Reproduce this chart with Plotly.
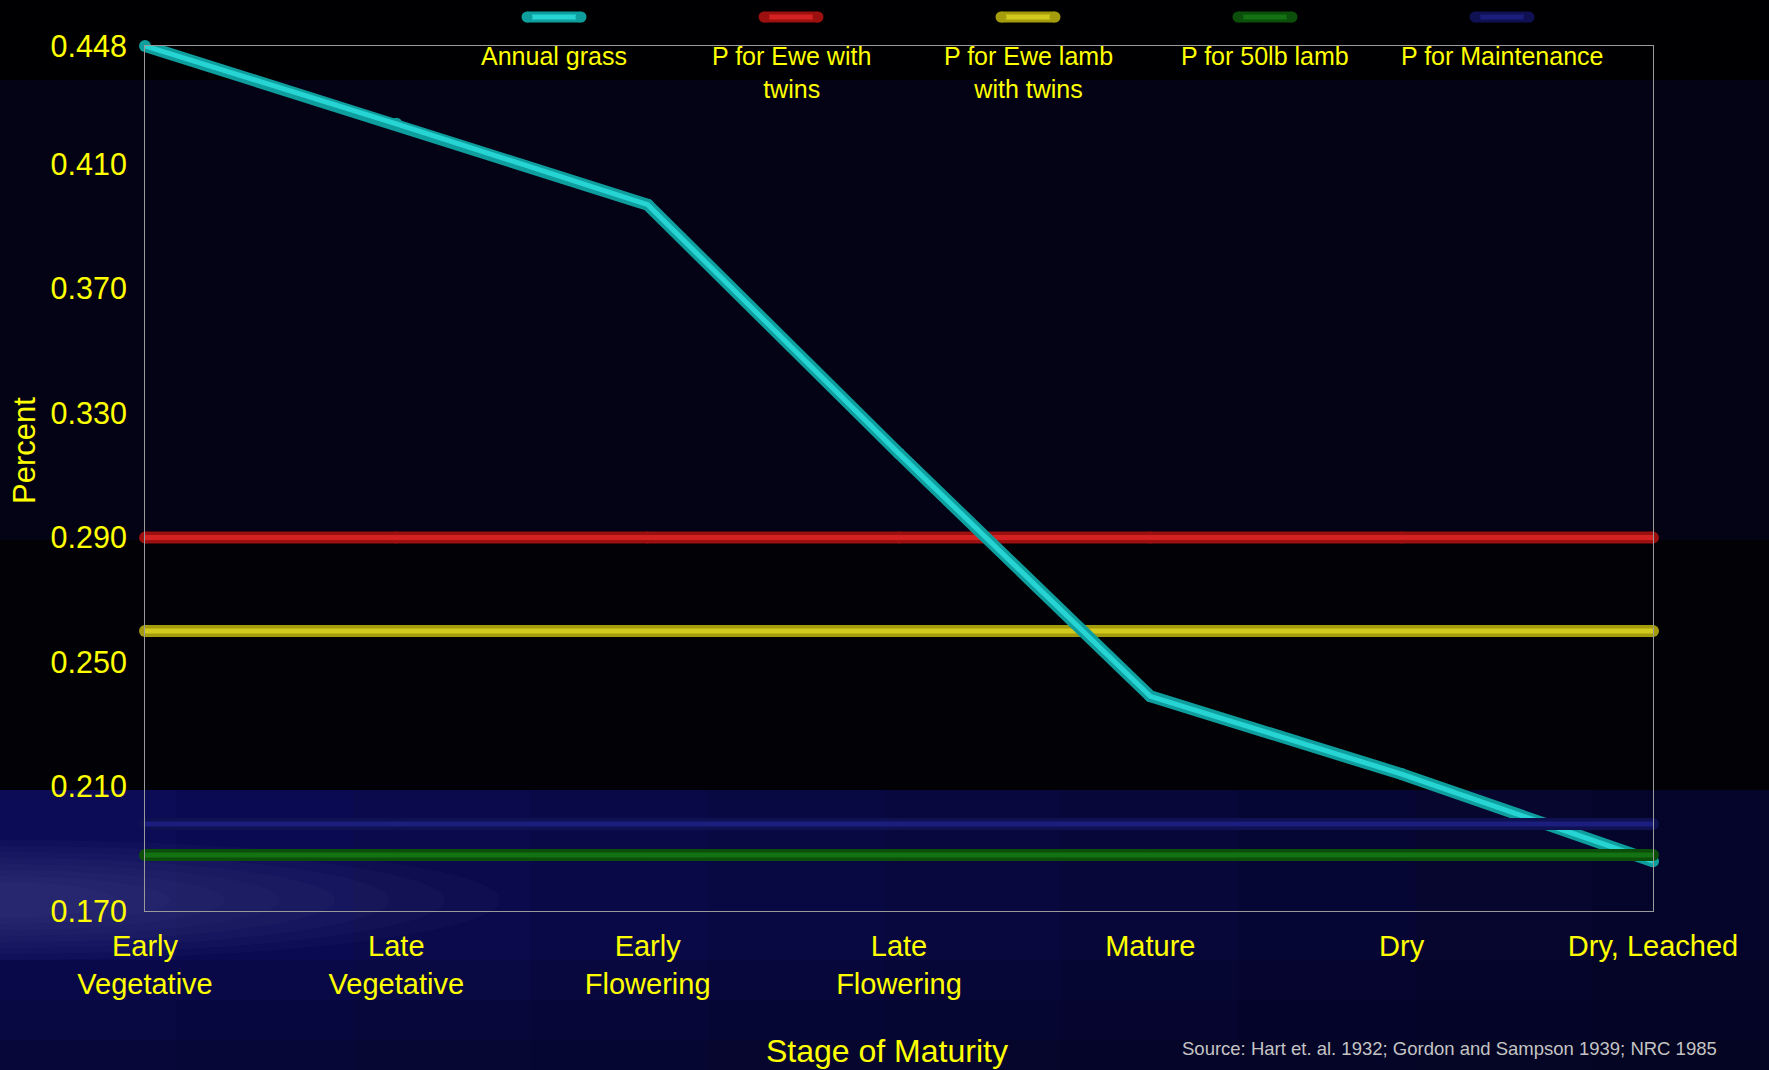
import plotly.graph_objects as go

# ---------------- data ----------------
stages = ["Early<br>Vegetative", "Late<br>Vegetative", "Early<br>Flowering",
          "Late<br>Flowering", "Mature", "Dry", "Dry, Leached"]
annual_grass = [0.448, 0.423, 0.397, 0.317, 0.239, 0.214, 0.186]
p_ewe_twins = [0.29, 0.29, 0.29, 0.29, 0.29, 0.29, 0.29]
p_ewe_lamb_twins = [0.26, 0.26, 0.26, 0.26, 0.26, 0.26, 0.26]
p_50lb_lamb = [0.188, 0.188, 0.188, 0.188, 0.188, 0.188, 0.188]
p_maintenance = [0.198, 0.198, 0.198, 0.198, 0.198, 0.198, 0.198]
series_names = ["Annual grass", "P for Ewe with<br>twins", "P for Ewe lamb<br>with twins",
                "P for 50lb lamb", "P for Maintenance"]
y_tick_vals = [0.170, 0.210, 0.250, 0.290, 0.330, 0.370, 0.410, 0.448]
y_tick_text = ["0.170", "0.210", "0.250", "0.290", "0.330", "0.370", "0.410", "0.448"]
y_title = "Percent"
x_title = "Stage of Maturity"
source_text = "Source: Hart et. al. 1932; Gordon and Sampson 1939; NRC 1985"

# ---------------- geometry ----------------
W, H = 1769, 1070
L, R, T, B = 145, 1653, 46, 911
PW, PH = R - L, B - T


def px(x):
    return (x - L) / PW


def py(y):
    return (B - y) / PH


FONT = "Liberation Sans, Arial, sans-serif"
YEL = "#ffff00"

# colours: (outer, inner)
cols = [("#0f9e9e", "#27d4d4"), ("#9c1010", "#d42222"), ("#a49c0c", "#d2ca1c"),
        ("#0b4f0b", "#137313"), ("#0f1152", "#1b1e7c")]
series = [annual_grass, p_ewe_twins, p_ewe_lamb_twins, p_50lb_lamb, p_maintenance]

fig = go.Figure()

draw_order = [1, 2, 0, 3, 4]
for i in draw_order:
    outer, inner = cols[i]
    fig.add_trace(go.Scatter(x=stages, y=series[i], mode="lines+markers",
                             line=dict(color=outer, width=12),
                             marker=dict(color=outer, size=12, line=dict(width=0)),
                             cliponaxis=False, showlegend=False, hoverinfo="skip"))
    fig.add_trace(go.Scatter(x=stages, y=series[i], mode="lines",
                             line=dict(color=inner, width=5),
                             cliponaxis=False, showlegend=False, hoverinfo="skip"))

shapes = []
# background bands
shapes.append(dict(type="rect", xref="paper", yref="paper", x0=px(0), x1=px(W), y0=py(0), y1=py(80),
                   fillcolor="#000003", line=dict(width=0), layer="below"))
shapes.append(dict(type="rect", xref="paper", yref="paper", x0=px(0), x1=px(W), y0=py(540), y1=py(790),
                   fillcolor="#010106", line=dict(width=0), layer="below"))
band_cols = ["#0b0b56", "#0a0a52", "#0a0a4d", "#090948", "#080843", "#08083e",
             "#070739", "#060634", "#06062f", "#05052b"]
n = len(band_cols)
for k, c in enumerate(band_cols):
    shapes.append(dict(type="rect", xref="paper", yref="paper",
                       x0=px(W * k / n), x1=px(W * (k + 1) / n + 1), y0=py(790), y1=py(H),
                       fillcolor=c, line=dict(width=0), layer="below"))
for k, (y0, y1, op) in enumerate([(960, 1000, 0.2), (1000, 1040, 0.35), (1040, H, 0.5)]):
    shapes.append(dict(type="rect", xref="paper", yref="paper", x0=px(0), x1=px(W), y0=py(y0), y1=py(y1),
                       fillcolor="#03031c", opacity=op, line=dict(width=0), layer="below"))
for k in range(8):
    rx = 500 - k * 55
    ry = 60 - k * 6
    shapes.append(dict(type="circle", xref="paper", yref="paper",
                       x0=px(-rx), x1=px(rx), y0=py(900 - ry), y1=py(900 + ry),
                       fillcolor="#6a6ab8", opacity=0.045, line=dict(width=0), layer="below"))

# legend swatches
leg_x = [554, 791, 1028, 1265, 1502]
for i, cx in enumerate(leg_x):
    outer, inner = cols[i]
    shapes.append(dict(type="line", xref="paper", yref="paper", x0=px(cx - 27), x1=px(cx + 27),
                       y0=py(17), y1=py(17), line=dict(color=outer, width=11)))
    shapes.append(dict(type="line", xref="paper", yref="paper", x0=px(cx - 25), x1=px(cx + 25),
                       y0=py(17), y1=py(17), line=dict(color=inner, width=5)))
    for side in (-1, 1):
        shapes.append(dict(type="circle", xref="paper", yref="paper",
                           x0=px(cx + side * 27 - 5.5), x1=px(cx + side * 27 + 5.5),
                           y0=py(17 + 5.5), y1=py(17 - 5.5),
                           fillcolor=outer, line=dict(width=0)))

annotations = []
for i, cx in enumerate(leg_x):
    annotations.append(dict(text=series_names[i], xref="paper", yref="paper", x=px(cx), y=py(40),
                            xanchor="center", yanchor="top", showarrow=False, align="center",
                            font=dict(family=FONT, size=25, color=YEL)))
annotations.append(dict(text=y_title, xref="paper", yref="paper", x=px(24), y=py(451), textangle=-90,
                        xanchor="center", yanchor="middle", showarrow=False,
                        font=dict(family=FONT, size=31, color=YEL)))
annotations.append(dict(text=x_title, xref="paper", yref="paper", x=px(887), y=py(1051),
                        xanchor="center", yanchor="middle", showarrow=False,
                        font=dict(family=FONT, size=32, color=YEL)))
annotations.append(dict(text=source_text, xref="paper", yref="paper", x=px(1449), y=py(1048),
                        xanchor="center", yanchor="middle", showarrow=False,
                        font=dict(family=FONT, size=18.5, color="#c4c4c4")))

fig.update_layout(
    width=W, height=H,
    margin=dict(l=L, r=W - R, t=T, b=H - B, pad=0),
    paper_bgcolor="#030315", plot_bgcolor="rgba(0,0,0,0)",
    font=dict(family=FONT, color=YEL),
    shapes=shapes, annotations=annotations, showlegend=False,
    xaxis=dict(type="category", range=[0, len(stages) - 1], showgrid=False, zeroline=False,
               showline=True, mirror=True, linecolor="#9a9a9a", linewidth=1,
               ticks="", tickfont=dict(family=FONT, size=29, color=YEL), ticklabelstandoff=9),
    yaxis=dict(range=[0.170, 0.448], tickvals=y_tick_vals, ticktext=y_tick_text, showgrid=False,
               zeroline=False, showline=True, mirror=True, linecolor="#9a9a9a", linewidth=1,
               ticks="", tickfont=dict(family=FONT, size=30.5, color=YEL), ticklabelstandoff=11),
)

fig.write_html("out.html")
